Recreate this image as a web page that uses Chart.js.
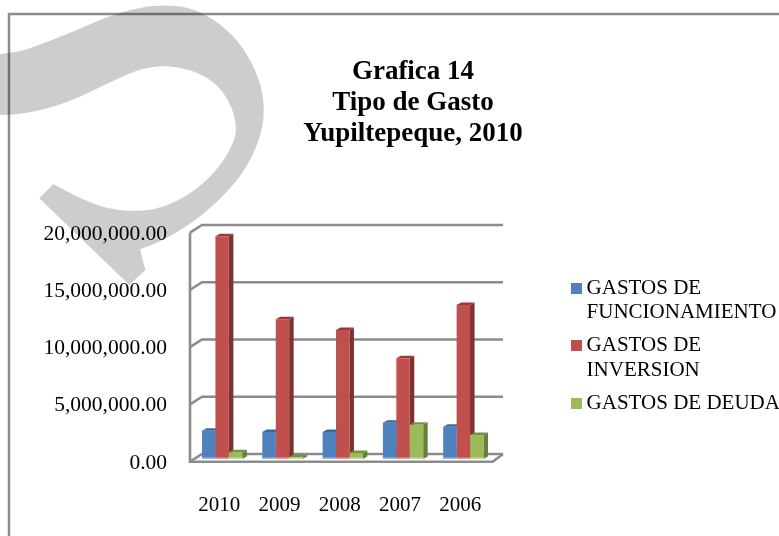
<!DOCTYPE html>
<html>
<head>
<meta charset="utf-8">
<title>Grafica 14</title>
<script src="https://cdn.jsdelivr.net/npm/chart.js@4"></script>
<style>
    html, body { margin: 0; padding: 0; background: #fff; overflow: hidden; }
    #wrap { position: relative; width: 779px; height: 536px; }
</style>
</head>
<body>
<div id="wrap"><canvas id="gastoChart" width="779" height="536"></canvas></div>
<script>
const years = ['2010', '2009', '2008', '2007', '2006'];
const funcionamiento = [2470000, 2360000, 2360000, 3170000, 2820000];
const inversion = [19460000, 12200000, 11260000, 8800000, 13440000];
const deuda = [580000, 170000, 520000, 3000000, 2090000];
const titleLines = ['Grafica 14', 'Tipo de Gasto', 'Yupiltepeque, 2010'];
const legendLabels = [['GASTOS DE', 'FUNCIONAMIENTO'], ['GASTOS DE', 'INVERSION'], ['GASTOS DE DEUDA']];

const serif = "'Liberation Serif', serif";
const faceColors = ['#4f81bd', '#c0504d', '#9bbb59'];
const sideColors = ['#2f5a8c', '#7e3230', '#66803a'];
const topColors = ['#3a689e', '#953a38', '#76923f'];
const gridColor = '#8c8c8c';

// background decoration, in zoomed reference coordinates (divide by 3)
const swooshOuter = [[0,162],[60,155],[130,130],[220,95],[320,50],[420,22],[500,14],[580,25],[660,70],[730,140],[780,240],[795,330],[780,420],[730,520],[650,610],[560,680],[480,725],[420,748]];
const swooshInner = [[160,552],[250,600],[330,628],[420,635],[500,620],[590,570],[660,500],[700,430],[710,390],[700,330],[660,260],[600,220],[530,200],[460,198],[400,215],[320,252],[220,300],[130,330],[50,343],[0,345]];

function smoothTo(ctx, pts) {
    for (let i = 0; i < pts.length - 1; i++) {
        const mx = (pts[i][0] + pts[i + 1][0]) / 2;
        const my = (pts[i][1] + pts[i + 1][1]) / 2;
        ctx.quadraticCurveTo(pts[i][0] / 3, pts[i][1] / 3, mx / 3, my / 3);
    }
    const last = pts[pts.length - 1];
    ctx.lineTo(last[0] / 3, last[1] / 3);
}

function swatch(color) {
    const c = document.createElement('canvas');
    c.width = 11;
    c.height = 11;
    const g = c.getContext('2d');
    g.fillStyle = color;
    g.fillRect(0, 0, 11, 11);
    return c;
}

const backdrop = {
    id: 'backdrop',
    beforeDraw(chart) {
        const ctx = chart.ctx;
        ctx.save();
        ctx.fillStyle = '#cdcdcd';
        ctx.beginPath();
        ctx.moveTo(0, 54);
        smoothTo(ctx, swooshOuter);
        ctx.lineTo(436 / 3, 810 / 3);
        ctx.lineTo(388 / 3, 855 / 3);
        ctx.lineTo(118 / 3, 595 / 3);
        ctx.lineTo(160 / 3, 552 / 3);
        smoothTo(ctx, swooshInner);
        ctx.closePath();
        ctx.fill();
        // page frame, only left and top show
        ctx.globalCompositeOperation = 'multiply';
        ctx.strokeStyle = '#8c8c8c';
        ctx.lineWidth = 2.5;
        ctx.beginPath();
        ctx.moveTo(9, 536);
        ctx.lineTo(9, 14);
        ctx.lineTo(779, 14);
        ctx.stroke();
        ctx.restore();
    }
};

// fake 3D: walls and floor behind the bars, side and top faces of each bar
const depth3d = {
    id: 'depth3d',
    beforeDatasetsDraw(chart) {
        const ctx = chart.ctx;
        const y = chart.scales.y;
        const left = chart.chartArea.left;
        ctx.save();
        ctx.strokeStyle = gridColor;
        ctx.lineWidth = 2.6;
        y.ticks.forEach(t => {
            const p = y.getPixelForValue(t.value);
            ctx.beginPath();
            ctx.moveTo(left - 2, p + 2.7);
            ctx.lineTo(left + 10, p - 5);
            ctx.lineTo(left + 311, p - 5);
            ctx.stroke();
        });
        const p0 = y.getPixelForValue(0);
        const pTop = y.getPixelForValue(y.max);
        ctx.beginPath();
        ctx.moveTo(left - 2, pTop + 2.7);
        ctx.lineTo(left - 2, p0 + 2.7);
        ctx.lineTo(left + 300.7, p0 + 2.7);
        ctx.lineTo(left + 311, p0 - 5);
        ctx.stroke();

        const dx = 4.5, dy = 2.5;
        chart.data.datasets.forEach((ds, d) => {
            chart.getDatasetMeta(d).data.forEach(bar => {
                const r = bar.x + bar.width / 2;
                const l = bar.x - bar.width / 2;
                ctx.fillStyle = sideColors[d];
                ctx.beginPath();
                ctx.moveTo(r, bar.y);
                ctx.lineTo(r + dx, bar.y - dy);
                ctx.lineTo(r + dx, bar.base - dy);
                ctx.lineTo(r, bar.base);
                ctx.closePath();
                ctx.fill();
                ctx.fillStyle = topColors[d];
                ctx.beginPath();
                ctx.moveTo(l, bar.y);
                ctx.lineTo(l + dx, bar.y - dy);
                ctx.lineTo(r + dx, bar.y - dy);
                ctx.lineTo(r, bar.y);
                ctx.closePath();
                ctx.fill();
            });
        });
        ctx.restore();
    },
    afterDatasetsDraw(chart) {
        const ctx = chart.ctx;
        ctx.save();
        ctx.fillStyle = 'rgba(255,255,255,0.45)';
        chart.data.datasets.forEach((ds, d) => {
            chart.getDatasetMeta(d).data.forEach(bar => {
                ctx.fillRect(bar.x - bar.width / 2, bar.base - 1.5, bar.width, 1.5);
            });
        });
        ctx.restore();
    }
};

// legend sits away from the plot, Chart.js would put it right next to it
const legendPlace = {
    id: 'legendPlace',
    beforeLayout(chart) {
        const legend = chart.legend;
        if (!legend.baseFit) {
            legend.baseFit = legend.fit;
            legend.fit = function() {
                this.baseFit();
                this.width = 285.5;
            };
        }
    },
    afterLayout(chart) {
        chart.legend.left = 567.5;
        chart.legend.top = 269;
        chart.legend.bottom = 536;
        // title is centred a bit right of the page
        chart.titleBlock.left = 47;
    }
};

new Chart(document.getElementById('gastoChart'), {
    type: 'bar',
    data: {
        labels: years,
        datasets: [
            { label: 'GASTOS DE FUNCIONAMIENTO', data: funcionamiento, backgroundColor: faceColors[0] },
            { label: 'GASTOS DE INVERSION', data: inversion, backgroundColor: faceColors[1] },
            { label: 'GASTOS DE DEUDA', data: deuda, backgroundColor: faceColors[2] }
        ]
    },
    plugins: [backdrop, depth3d, legendPlace],
    options: {
        responsive: false,
        animation: false,
        layout: { padding: { left: 40, top: 57, right: 0, bottom: 0 } },
        datasets: { bar: { categoryPercentage: 0.668, barPercentage: 1 } },
        plugins: {
            tooltip: { enabled: false },
            title: {
                display: true,
                text: titleLines,
                color: '#000',
                font: { family: serif, size: 27, weight: 'bold', lineHeight: 31 / 27 },
                padding: { top: 0, bottom: 80 }
            },
            legend: {
                position: 'right',
                align: 'start',
                labels: {
                    color: '#000',
                    font: { family: serif, size: 21, lineHeight: 24.5 / 21 },
                    padding: 8.5,
                    usePointStyle: true,
                    pointStyleWidth: 0.1,
                    boxHeight: 11,
                    generateLabels: () => legendLabels.map((text, i) => ({
                        text: text,
                        fontColor: '#000',
                        pointStyle: swatch(faceColors[i]),
                        datasetIndex: i,
                        lineWidth: 0,
                        strokeStyle: 'transparent',
                        fillStyle: faceColors[i]
                    }))
                }
            }
        },
        scales: {
            x: {
                grid: { display: false },
                border: { display: false },
                ticks: {
                    color: '#000',
                    font: { family: serif, size: 21 },
                    padding: 26,
                    labelOffset: -3,
                    maxRotation: 0
                },
                afterFit(scale) { scale.height = 77; }
            },
            y: {
                min: 0,
                max: 20000000,
                grid: { display: false, drawTicks: false },
                border: { display: false },
                ticks: {
                    stepSize: 5000000,
                    color: '#000',
                    font: { family: serif, size: 21.5 },
                    padding: 25,
                    labelOffset: 4,
                    callback: v => v.toLocaleString('en-US', { minimumFractionDigits: 2, maximumFractionDigits: 2 })
                },
                afterFit(scale) { scale.width = 152; }
            }
        }
    }
});
</script>
</body>
</html>
